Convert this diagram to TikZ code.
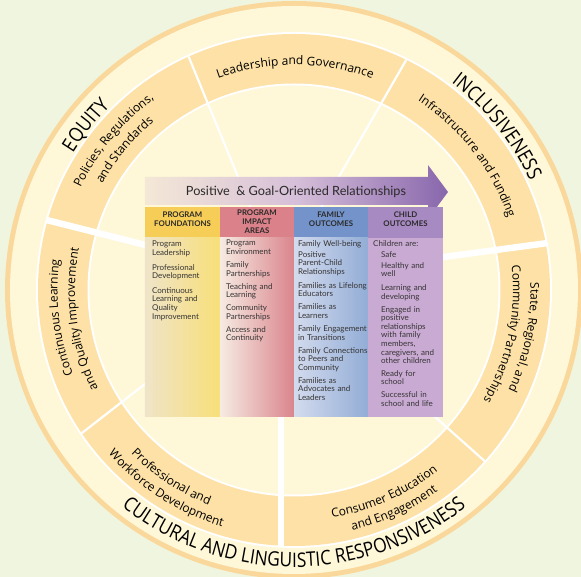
\documentclass[tikz,border=0pt]{standalone}
\usepackage{fontspec}
\setmainfont{Lato}
\newfontfamily\ringfont{Open Sans}
\newfontfamily\capsfont[FakeStretch=0.87]{Open Sans}
\usetikzlibrary{decorations.text}
\definecolor{bgc}{HTML}{EFF5DF}
\definecolor{rimc}{HTML}{FAD89B}
\definecolor{creamc}{HTML}{FEF7D8}
\definecolor{bandc}{HTML}{FDE1A6}
\definecolor{innerc}{HTML}{FEF7D8}
\definecolor{txtc}{HTML}{2B2A29}
\definecolor{bodytxt}{HTML}{363434}
\definecolor{arrL}{HTML}{F4E8D6}
\definecolor{arrM}{HTML}{D6BFD9}
\definecolor{arrR}{HTML}{8866AC}
\definecolor{hdA}{HTML}{F5CD57}
\definecolor{hdB}{HTML}{DA8189}
\definecolor{hdC}{HTML}{7393CA}
\definecolor{hdD}{HTML}{A88AC3}
\definecolor{bAL}{HTML}{EFE4C8}
\definecolor{bAR}{HTML}{F8DF78}
\definecolor{bBL}{HTML}{F6EBE2}
\definecolor{bBR}{HTML}{DA858D}
\definecolor{bCL}{HTML}{D3DBEE}
\definecolor{bCR}{HTML}{93ADD6}
\definecolor{bD}{HTML}{C9AAD3}
\newcommand{\ringsz}{\ringfont\fontsize{12}{14}\selectfont}
\newcommand{\capsz}{\capsfont\fontsize{20}{22}\selectfont}
% clockwise text (top half / sides): angle, radius, font, text
\newcommand{\cwtext}[4]{\path[txtc,decorate,decoration={text along path,text align=center,text={|#3|#4}}] (#1+75:#2) arc[start angle=#1+75,end angle=#1-75,radius=#2];}
% counter-clockwise text (bottom half)
\newcommand{\ccwtext}[4]{\path[txtc,decorate,decoration={text along path,text align=center,text={|#3|#4}}] (#1-75:#2) arc[start angle=#1-75,end angle=#1+75,radius=#2];}
\tikzset{
  septhin/.style={white,line width=2.2},
  septhick/.style={white,line width=6.5},
  hdtext/.style={font=\bfseries\fontsize{7.8}{9}\selectfont,align=center,text=txtc,inner sep=0},
  bodytext/.style={font=\fontsize{8}{8.6}\selectfont,text=bodytxt,align=left,text width=85,anchor=base west,inner sep=0},
}
\begin{document}
\begin{tikzpicture}[x=1pt,y=1pt]
\useasboundingbox (-294,-287) rectangle (287,290);
\fill[bgc] (-294,-287) rectangle (287,290);
% rings
\fill[rimc] (0,0) circle[radius=289];
\fill[creamc] (0,0) circle[radius=284];
\fill[white] (0,0) circle[radius=258];
\fill[bandc] (0,0) circle[radius=256];
\fill[white] (0,0) circle[radius=206.5];
\fill[innerc] (0,0) circle[radius=204.5];
% separators
\coordinate (P) at (-14,11);
\coordinate (s1) at (114.3:256);
\coordinate (s2) at (64.0:256);
\coordinate (s3) at (10.5:257);
\coordinate (s4) at (-41.9:256);
\coordinate (s5) at (-13,-257);
\coordinate (s5b) at (-13,0);
\coordinate (s6) at (214:256);
\coordinate (s7) at (164.2:257);
\draw[septhin] (P) -- (s1);
\draw[septhin] (P) -- (s2);
\draw[septhin] (P) -- (s4);
\draw[septhin] (P) -- (s6);
\draw[septhick] (P) -- (s3);
\draw[septhick] (P) -- (s7);
\draw[septhick] (s5b) -- (s5);
% ring texts
\cwtext{89.7}{225}{\ringsz}{Leadership and Governance}
\cwtext{37.7}{226}{\ringsz}{Infrastructure and Funding}
\cwtext{140.3}{236.5}{\ringsz}{Policies, Regulations,}
\cwtext{140.4}{219}{\ringsz}{and Standards}
\cwtext{-11.6}{236.5}{\ringsz}{State, Regional, and}
\cwtext{-11.9}{219}{\ringsz}{Community Partnerships}
\cwtext{186.8}{236.5}{\ringsz}{Continuous Learning}
\cwtext{187.8}{219}{\ringsz}{and Quality Improvement}
\ccwtext{-66}{231}{\ringsz}{Consumer Education}
\ccwtext{-65.4}{247.5}{\ringsz}{and Engagement}
\ccwtext{236.8}{231}{\ringsz}{Professional and}
\ccwtext{237.3}{247.5}{\ringsz}{Workforce Development}
\cwtext{141.6}{260}{\capsz}{EQUITY}
\cwtext{38.8}{260}{\capsz}{INCLUSIVENESS}
\ccwtext{-90}{277}{\capsz}{CULTURAL AND LINGUISTIC RESPONSIVENESS}
% arrow
\shade[left color=arrL,right color=arrR,middle color=arrM] (-149,85) -- (134,85) -- (134,71) -- (154,98) -- (134,125) -- (134,113) -- (-149,113) -- cycle;
\node[font=\fontsize{12.7}{15}\selectfont,text=txtc,anchor=base,inner sep=0] (ttl) at (2,94) {Positive~ \& Goal-Oriented Relationships};
% headers
\fill[hdA] (-149,52) rectangle (-74,83);
\fill[hdB] (-74,52) rectangle (0,83);
\fill[hdC] (0,52) rectangle (74,83);
\fill[hdD] (74,52) rectangle (149,83);
\node[hdtext] (h1) at (-111.5,70.7) {PROGRAM\\FOUNDATIONS};
\node[hdtext] (h2) at (-37,68) {PROGRAM\\IMPACT\\AREAS};
\node[hdtext] (h3) at (37,70.7) {FAMILY\\OUTCOMES};
\node[hdtext] (h4) at (111.5,70.7) {CHILD\\OUTCOMES};
% bodies
\shade[left color=bAL,right color=bAR] (-149,-127) rectangle (-74,52);
\shade[left color=bBL,right color=bBR] (-74,-127) rectangle (0,52);
\shade[left color=bCL,right color=bCR] (0,-127) rectangle (74,52);
\fill[bD] (74,-127) rectangle (149,52);
\node[bodytext] (c1) at (-142,43) {Program\\Leadership\\[6pt]Professional\\Development\\[6pt]Continuous\\Learning and\\Quality\\Improvement};
\node[bodytext] (c2) at (-68,44) {Program\\Environment\\[4.4pt]Family\\Partnerships\\[4.4pt]Teaching and\\Learning\\[4.4pt]Community\\Partnerships\\[4.4pt]Access and\\Continuity};
\node[bodytext] (c3) at (4,43) {Family Well-being\\[1.5pt]Positive\\Parent-Child\\Relationships\\[5.4pt]Families as Lifelong\\Educators\\[4.4pt]Families as\\Learners\\[4.4pt]Family Engagement\\in Transitions\\[4.4pt]Family Connections\\to Peers and\\Community\\[4.4pt]Families as\\Advocates and\\Leaders};
\node[bodytext] (c4a) at (79,43) {Children are:};
\node[bodytext] (c4b) at (87,32) {Safe\\[1.5pt]Healthy and\\well\\[5.6pt]Learning and\\developing\\[4pt]Engaged in\\positive\\relationships\\with family\\members,\\caregivers, and\\other children\\[4pt]Ready for\\school\\[4.4pt]Successful in\\school and life};
\end{tikzpicture}
\end{document}
